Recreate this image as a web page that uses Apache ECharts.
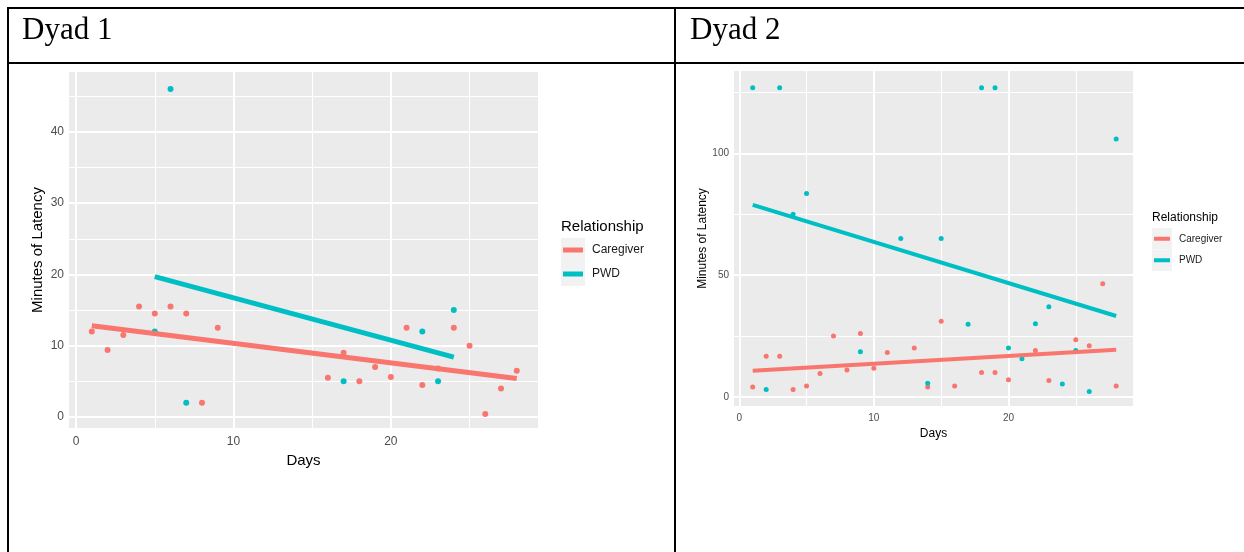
<!DOCTYPE html>
<html>
<head>
<meta charset="utf-8">
<script src="https://cdn.jsdelivr.net/npm/echarts@6/dist/echarts.min.js"></script>
<style>
  html, body { margin: 0; padding: 0; background: #fff; }
  #page { position: relative; width: 1244px; height: 552px; overflow: hidden; }
  #chart { position: absolute; left: 0; top: 0; width: 1244px; height: 552px; }
  .rule { position: absolute; background: #000; }
  .cell-title {
    position: absolute; top: 13px; font-family: "Liberation Serif", "Times New Roman", serif;
    font-size: 31px; line-height: 31px; color: #000;
  }
</style>
</head>
<body>
<div id="page">
  <div id="chart"></div>
  <!-- table rules -->
  <div class="rule" style="left:7px;top:7px;width:1237px;height:2px"></div>
  <div class="rule" style="left:7px;top:62px;width:1237px;height:2px"></div>
  <div class="rule" style="left:7px;top:7px;width:2px;height:545px"></div>
  <div class="rule" style="left:674px;top:7px;width:2px;height:545px"></div>
  <div class="cell-title" style="left:22px">Dyad 1</div>
  <div class="cell-title" style="left:690px">Dyad 2</div>
</div>

<script>
// Dyad 1
var cg1Days = [1, 2, 3, 4, 5, 6, 7, 8, 9, 16, 17, 18, 19, 20, 21, 22, 23, 24, 25, 26, 27, 28];
var cg1Mins = [12, 9.4, 11.5, 15.5, 14.5, 15.5, 14.5, 2, 12.5, 5.5, 9, 5, 7, 5.6, 12.5, 4.5, 6.8, 12.5, 10, 0.4, 4, 6.5];
var pwd1Days = [5, 6, 7, 17, 22, 23, 24];
var pwd1Mins = [12, 46, 2, 5, 12, 5, 15];
var cg1Fit = [[1, 12.8], [28, 5.4]];
var pwd1Fit = [[5, 19.7], [24, 8.4]];

// Dyad 2
var cg2Days = [1, 2, 3, 4, 5, 6, 7, 8, 9, 10, 11, 13, 14, 15, 16, 18, 19, 20, 22, 23, 25, 26, 27, 28];
var cg2Mins = [4, 16.7, 16.7, 3, 4.4, 9.6, 25, 11, 26, 11.7, 18.2, 20, 4, 31, 4.4, 10, 10, 7, 19, 6.7, 23.4, 21, 46.5, 4.4];
var pwd2Days = [1, 2, 3, 4, 5, 9, 12, 14, 15, 17, 18, 19, 20, 21, 22, 23, 24, 25, 26, 28];
var pwd2Mins = [127, 3, 127, 75, 83.5, 18.5, 65, 5.5, 65, 29.8, 127, 127, 20, 15.6, 30, 37, 5.2, 19, 2.2, 106];
var cg2Fit = [[1, 10.7], [28, 19.3]];
var pwd2Fit = [[1, 78.9], [28, 33.2]];

// ticks
var xMajor = [0, 10, 20];
var xMinor = [5, 15, 25];
var y1Major = [0, 10, 20, 30, 40];
var y1Minor = [5, 15, 25, 35, 45];
var y2Major = [0, 50, 100];
var y2Minor = [25, 75, 125];

var RED = '#F8766D';
var TEAL = '#00BFC4';
var FONT = '"Liberation Sans", Arial, sans-serif';

function zip(xs, ys) {
  return xs.map(function (x, i) { return [x, ys[i]]; });
}

function xAxisOpt(idx, min, max, fs, labelMargin, nameFs, nameGap) {
  return {
    type: 'value', gridIndex: idx, min: min, max: max,
    axisLine: { show: false },
    axisTick: { show: true, length: 3, lineStyle: { color: '#333', width: 1 }, customValues: xMajor },
    axisLabel: { customValues: xMajor, color: '#4D4D4D', fontSize: fs, fontFamily: FONT, margin: labelMargin },
    splitLine: { show: false },
    name: 'Days', nameLocation: 'middle', nameGap: nameGap,
    nameTextStyle: { color: '#000', fontSize: nameFs, fontFamily: FONT }
  };
}

function yAxisOpt(idx, min, max, ticks, fs, labelMargin, nameFs, nameGap) {
  return {
    type: 'value', gridIndex: idx, min: min, max: max,
    axisLine: { show: false },
    axisTick: { show: true, length: 3, lineStyle: { color: '#333', width: 1 }, customValues: ticks },
    axisLabel: { customValues: ticks, color: '#4D4D4D', fontSize: fs, fontFamily: FONT, margin: labelMargin },
    splitLine: { show: false },
    name: 'Minutes of Latency', nameLocation: 'middle', nameGap: nameGap, nameRotate: 90,
    nameTextStyle: { color: '#000', fontSize: nameFs, fontFamily: FONT }
  };
}

// white ggplot-style grid lines, drawn through the axes as mark lines
function gridLines(idx, yMajor, yMinor) {
  var data = [];
  xMinor.forEach(function (v) { data.push({ xAxis: v, lineStyle: { width: 1 } }); });
  yMinor.forEach(function (v) { data.push({ yAxis: v, lineStyle: { width: 1 } }); });
  xMajor.forEach(function (v) { data.push({ xAxis: v, lineStyle: { width: 2 } }); });
  yMajor.forEach(function (v) { data.push({ yAxis: v, lineStyle: { width: 2 } }); });
  return {
    type: 'line', xAxisIndex: idx, yAxisIndex: idx, data: [], z: 1,
    markLine: {
      silent: true, symbol: 'none', z: 1, animation: false,
      label: { show: false },
      lineStyle: { color: '#FFFFFF', type: 'solid' },
      emphasis: { disabled: true },
      data: data
    }
  };
}

function points(idx, data, color, size) {
  return {
    type: 'scatter', xAxisIndex: idx, yAxisIndex: idx, data: data, z: 3,
    symbolSize: size, itemStyle: { color: color, opacity: 1 }, silent: true
  };
}

function fit(idx, data, color, width) {
  return {
    type: 'line', xAxisIndex: idx, yAxisIndex: idx, data: data, z: 4,
    symbol: 'none', lineStyle: { color: color, width: width, cap: 'butt' }, silent: true
  };
}

function legend(left, top, titleFs, labelFs, keyW, keyH, lineW) {
  var els = [{
    type: 'text', left: left, top: top,
    style: { text: 'Relationship', fill: '#000', font: titleFs + 'px ' + FONT }
  }];
  var keyTop = top + titleFs + 4;
  [['Caregiver', RED], ['PWD', TEAL]].forEach(function (k, i) {
    var y = keyTop + i * keyH;
    els.push({ type: 'rect', shape: { x: left, y: y, width: keyW, height: keyH }, style: { fill: '#F2F2F2' } });
    els.push({
      type: 'line', shape: { x1: left + 2, y1: y + keyH / 2, x2: left + keyW - 2, y2: y + keyH / 2 },
      style: { stroke: k[1], lineWidth: lineW }
    });
    els.push({
      type: 'text', x: left + keyW + 7, y: y + keyH / 2,
      style: { text: k[0], fill: '#1A1A1A', font: labelFs + 'px ' + FONT, textVerticalAlign: 'middle' }
    });
  });
  return els;
}

var chart = echarts.init(document.getElementById('chart'), null, { renderer: 'canvas' });

chart.setOption({
  animation: false,
  grid: [
    { left: 69, top: 72, width: 469, height: 356, show: true, backgroundColor: '#EBEBEB', borderWidth: 0 },
    { left: 734, top: 71, width: 399, height: 335, show: true, backgroundColor: '#EBEBEB', borderWidth: 0 }
  ],
  xAxis: [
    xAxisOpt(0, -0.45, 29.35, 12, 8, 15, 24),
    xAxisOpt(1, -0.39, 29.25, 10, 7, 12, 21)
  ],
  yAxis: [
    yAxisOpt(0, -1.55, 48.4, y1Major, 12, 5, 15, 24),
    yAxisOpt(1, -3.8, 133.9, y2Major, 10, 5, 12, 25)
  ],
  series: [
    gridLines(0, y1Major, y1Minor),
    points(0, zip(cg1Days, cg1Mins), RED, 6),
    points(0, zip(pwd1Days, pwd1Mins), TEAL, 6),
    fit(0, cg1Fit, RED, 5),
    fit(0, pwd1Fit, TEAL, 5),
    gridLines(1, y2Major, y2Minor),
    points(1, zip(cg2Days, cg2Mins), RED, 5),
    points(1, zip(pwd2Days, pwd2Mins), TEAL, 5),
    fit(1, cg2Fit, RED, 4),
    fit(1, pwd2Fit, TEAL, 4)
  ],
  graphic: legend(561, 219, 15, 12, 24, 24, 5).concat(legend(1152, 212, 12, 10, 20, 21.5, 4))
});
</script>
</body>
</html>
